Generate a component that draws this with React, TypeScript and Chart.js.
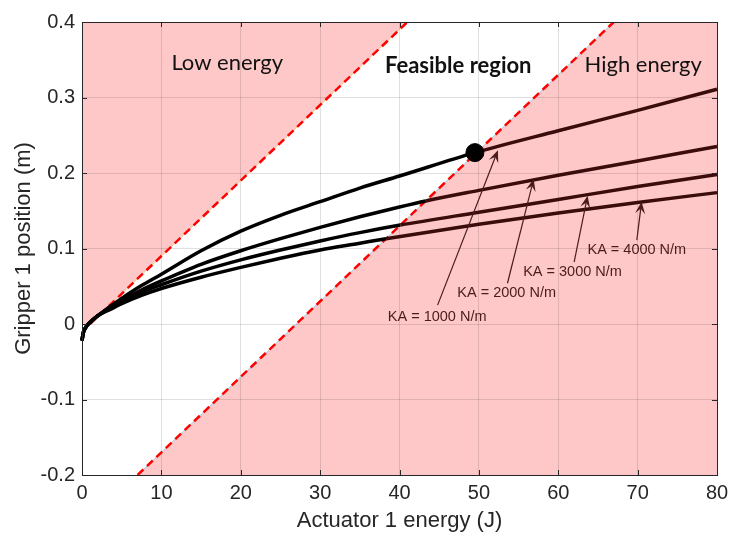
import React, { useEffect, useRef } from "react";
import { Chart, registerables } from "chart.js";

Chart.register(...registerables);

// ---- axes ----
const xMin = 0;
const xMax = 80;
const xStep = 10;
const yTickValues = [-0.2, -0.1, 0, 0.1, 0.2, 0.3, 0.4];
const yTickLabels = ["-0.2", "-0.1", "0", "0.1", "0.2", "0.3", "0.4"];
const xTitle = "Actuator 1 energy (J)";
const yTitle = "Gripper 1 position (m)";

// ---- series (gripper position vs actuator energy) ----
const seriesNames = ["KA = 1000 N/m", "KA = 2000 N/m", "KA = 3000 N/m", "KA = 4000 N/m"];
const ka1000X = [0, 0.15, 0.5, 1, 2, 3.5, 5, 7.5, 10, 15, 20, 25, 30, 35, 40, 49.5, 60, 70, 80];
const ka1000Y = [-0.022, -0.012, -0.004, 0.002, 0.011, 0.023, 0.034, 0.051, 0.066, 0.097, 0.123, 0.144, 0.162, 0.18, 0.196, 0.227, 0.256, 0.283, 0.311];
const ka2000X = [0, 0.15, 0.5, 1, 2, 3.5, 5, 7.5, 10, 15, 20, 25, 30, 35, 40, 43.3, 50, 60, 70, 80];
const ka2000Y = [-0.022, -0.012, -0.004, 0.002, 0.011, 0.021, 0.031, 0.045, 0.057, 0.079, 0.097, 0.113, 0.128, 0.142, 0.155, 0.163, 0.177, 0.197, 0.216, 0.235];
const ka3000X = [0, 0.15, 0.5, 1, 2, 3.5, 5, 7.5, 10, 15, 20, 25, 30, 35, 40.1, 50, 60, 70, 80];
const ka3000Y = [-0.022, -0.012, -0.004, 0.002, 0.011, 0.02, 0.029, 0.042, 0.052, 0.07, 0.085, 0.098, 0.11, 0.121, 0.131, 0.148, 0.165, 0.182, 0.198];
const ka4000X = [0, 0.15, 0.5, 1, 2, 3.5, 5, 7.5, 10, 15, 20, 25, 30, 35, 38.3, 50, 60, 70, 80];
const ka4000Y = [-0.022, -0.012, -0.004, 0.002, 0.011, 0.019, 0.027, 0.038, 0.047, 0.062, 0.075, 0.087, 0.098, 0.107, 0.113, 0.132, 0.147, 0.161, 0.174];

// ---- region boundaries ----
const lowBoundaryX = [1, 41];
const lowBoundaryY = [0, 0.4];
const highBoundaryX = [7, 67];
const highBoundaryY = [-0.2, 0.4];
const lowRegionX = [0, 1, 41, 0];
const lowRegionY = [0, 0, 0.4, 0.4];
const highRegionX = [7, 67, 80, 80];
const highRegionY = [-0.2, 0.4, 0.4, -0.2];
const optimumX = [49.5];
const optimumY = [0.227];

// ---- annotations ----
const regionLabels = ["Low energy", "Feasible region", "High energy"];
const regionLabelX = [18.3, 47.4, 70.7];
const regionLabelY = [0.346, 0.342, 0.343];
const regionLabelBold = [false, true, false];
const arrowTailX = [44.8, 53.6, 62.0, 69.9];
const arrowTailY = [0.025, 0.054, 0.082, 0.111];
const arrowHeadX = [52.4, 56.9, 63.7, 70.5];
const arrowHeadY = [0.23, 0.192, 0.17, 0.162];
const arrowLabelX = [44.74, 53.5, 61.8, 69.9];
const arrowLabelY = [0.0093, 0.041, 0.069, 0.098];

const PINK = "#ffc8c8";
const BROWN = "#3a0c0c";
const AXIS = "#262626";
const NOTE = "#4a1c1c";

const highSlope = (highBoundaryY[1] - highBoundaryY[0]) / (highBoundaryX[1] - highBoundaryX[0]);
const highBound = (x: number) => highBoundaryY[0] + highSlope * (x - highBoundaryX[0]);

const toPts = (xs: number[], ys: number[]) => xs.map((x, i) => ({ x, y: ys[i] }));

export default function App() {
  const ref = useRef<HTMLCanvasElement | null>(null);

  useEffect(() => {
    if (!ref.current) return;

    const regionPlugin = {
      id: "regions",
      beforeDraw(chart: any) {
        const { ctx, scales } = chart;
        const xs = scales.x;
        const ys = scales.y;
        const area = chart.chartArea;
        ctx.save();
        ctx.beginPath();
        ctx.rect(area.left, area.top, area.right - area.left, area.bottom - area.top);
        ctx.clip();
        ctx.fillStyle = PINK;
        for (const [px, py] of [
          [lowRegionX, lowRegionY],
          [highRegionX, highRegionY],
        ]) {
          ctx.beginPath();
          px.forEach((v: number, i: number) => {
            const X = xs.getPixelForValue(v);
            const Y = ys.getPixelForValue(py[i]);
            if (i === 0) ctx.moveTo(X, Y);
            else ctx.lineTo(X, Y);
          });
          ctx.closePath();
          ctx.fill();
        }
        ctx.restore();
      },
      afterDatasetsDraw(chart: any) {
        const { ctx, scales } = chart;
        const xs = scales.x;
        const ys = scales.y;
        ctx.save();
        ctx.strokeStyle = NOTE;
        ctx.fillStyle = NOTE;
        ctx.lineWidth = 1.2;
        for (let i = 0; i < arrowTailX.length; i++) {
          const x0 = xs.getPixelForValue(arrowTailX[i]);
          const y0 = ys.getPixelForValue(arrowTailY[i]);
          const x1 = xs.getPixelForValue(arrowHeadX[i]);
          const y1 = ys.getPixelForValue(arrowHeadY[i]);
          const dx = x1 - x0;
          const dy = y1 - y0;
          const len = Math.hypot(dx, dy);
          const ux = dx / len;
          const uy = dy / len;
          const L = 12;
          const W = 5;
          ctx.beginPath();
          ctx.moveTo(x0, y0);
          ctx.lineTo(x1 - ux * L * 0.6, y1 - uy * L * 0.6);
          ctx.stroke();
          ctx.beginPath();
          ctx.moveTo(x1, y1);
          ctx.lineTo(x1 - ux * L - uy * W, y1 - uy * L + ux * W);
          ctx.lineTo(x1 - ux * L * 0.6, y1 - uy * L * 0.6);
          ctx.lineTo(x1 - ux * L + uy * W, y1 - uy * L - ux * W);
          ctx.closePath();
          ctx.fill();
        }
        ctx.font = '14.5px "Liberation Sans", Arial, sans-serif';
        ctx.textAlign = "center";
        ctx.textBaseline = "middle";
        for (let i = 0; i < seriesNames.length; i++) {
          ctx.fillText(seriesNames[i], xs.getPixelForValue(arrowLabelX[i]), ys.getPixelForValue(arrowLabelY[i]));
        }
        ctx.fillStyle = "#111";
        for (let i = 0; i < regionLabels.length; i++) {
          ctx.font = (regionLabelBold[i] ? "bold " : "") + "22px Lato, sans-serif";
          ctx.fillText(regionLabels[i], xs.getPixelForValue(regionLabelX[i]), ys.getPixelForValue(regionLabelY[i]));
        }
        ctx.restore();
      },
      afterDraw(chart: any) {
        const { ctx, scales } = chart;
        const a = chart.chartArea;
        ctx.save();
        ctx.strokeStyle = AXIS;
        ctx.lineWidth = 1;
        ctx.strokeRect(Math.round(a.left) + 0.5, Math.round(a.top) + 0.5, Math.round(a.right - a.left), Math.round(a.bottom - a.top));
        const T = 5;
        ctx.beginPath();
        for (let v = xMin; v <= xMax; v += xStep) {
          const X = Math.round(scales.x.getPixelForValue(v)) + 0.5;
          ctx.moveTo(X, a.bottom);
          ctx.lineTo(X, a.bottom - T);
          ctx.moveTo(X, a.top);
          ctx.lineTo(X, a.top + T);
        }
        for (const v of yTickValues) {
          const Y = Math.round(scales.y.getPixelForValue(v)) + 0.5;
          ctx.moveTo(a.left, Y);
          ctx.lineTo(a.left + T, Y);
          ctx.moveTo(a.right, Y);
          ctx.lineTo(a.right - T, Y);
        }
        ctx.stroke();
        ctx.restore();
      },
    };

    const curveSegment = {
      borderColor: (c: any) => {
        const mx = (c.p0.parsed.x + c.p1.parsed.x) / 2;
        const my = (c.p0.parsed.y + c.p1.parsed.y) / 2;
        return my < highBound(mx) ? BROWN : "#000";
      },
    };

    const curve = (label: string, xs: number[], ys: number[]) => ({
      type: "line" as const,
      label,
      data: toPts(xs, ys),
      borderColor: "#000",
      borderWidth: 3.5,
      pointRadius: 0,
      cubicInterpolationMode: "monotone" as const,
      segment: curveSegment,
      order: 5,
      clip: false as any,
    });

    const chart = new Chart(ref.current, {
      type: "line",
      data: {
        datasets: [
          {
            type: "scatter",
            label: "optimum",
            data: toPts(optimumX, optimumY),
            pointRadius: 9,
            pointBackgroundColor: "#000",
            pointBorderColor: "#000",
            order: 1,
          } as any,
          curve(seriesNames[0], ka1000X, ka1000Y),
          curve(seriesNames[1], ka2000X, ka2000Y),
          curve(seriesNames[2], ka3000X, ka3000Y),
          curve(seriesNames[3], ka4000X, ka4000Y),
          {
            label: "low bound",
            data: toPts(lowBoundaryX, lowBoundaryY),
            borderColor: "#ff0000",
            borderWidth: 2.5,
            borderDash: [8, 5],
            pointRadius: 0,
            order: 8,
          },
          {
            label: "high bound",
            data: toPts(highBoundaryX, highBoundaryY),
            borderColor: "#ff0000",
            borderWidth: 2.5,
            borderDash: [8, 5],
            pointRadius: 0,
            order: 8,
          },
          {
            label: "low bound base",
            data: toPts(lowBoundaryX, lowBoundaryY),
            borderColor: "#f3c98a",
            borderWidth: 1,
            pointRadius: 0,
            order: 9,
          },
          {
            label: "high bound base",
            data: toPts(highBoundaryX, highBoundaryY),
            borderColor: "#8fd4ee",
            borderWidth: 1,
            pointRadius: 0,
            order: 9,
          },
        ],
      },
      options: {
        animation: false,
        responsive: false,
        events: [],
        layout: { padding: { left: 0, right: 12, top: 22, bottom: 0 } },
        plugins: { legend: { display: false }, tooltip: { enabled: false } },
        scales: {
          x: {
            type: "linear",
            min: xMin,
            max: xMax,
            ticks: {
              stepSize: xStep,
              color: AXIS,
              font: { family: '"Liberation Sans", Arial, sans-serif', size: 20 },
              padding: 6,
              maxRotation: 0,
            },
            grid: { color: "rgba(0,0,0,0.12)", drawTicks: false },
            border: { display: false },
            title: {
              display: true,
              text: xTitle,
              color: AXIS,
              font: { family: '"Liberation Sans", Arial, sans-serif', size: 22 },
              padding: { top: 0, bottom: 4 },
            },
            afterFit: (s: any) => {
              s.height = 63;
              s.paddingRight = 0;
              s.paddingLeft = 0;
            },
          },
          y: {
            type: "linear",
            min: yTickValues[0],
            max: yTickValues[yTickValues.length - 1],
            afterBuildTicks: (s: any) => {
              s.ticks = yTickValues.map((v) => ({ value: v }));
            },
            ticks: {
              color: AXIS,
              font: { family: '"Liberation Sans", Arial, sans-serif', size: 20 },
              padding: 7,
              callback: (v: any) => {
                const i = yTickValues.findIndex((t) => Math.abs(t - v) < 1e-9);
                return i >= 0 ? yTickLabels[i] : "";
              },
            },
            grid: { color: "rgba(0,0,0,0.12)", drawTicks: false },
            border: { display: false },
            title: {
              display: true,
              text: yTitle,
              color: AXIS,
              font: { family: '"Liberation Sans", Arial, sans-serif', size: 22 },
              padding: { top: 11, bottom: 0 },
            },
            afterFit: (s: any) => {
              s.width = 82;
              s.paddingTop = 0;
              s.paddingBottom = 0;
            },
          },
        },
      },
      plugins: [regionPlugin],
    } as any);

    return () => chart.destroy();
  }, []);

  return (
    <div style={{ position: "fixed", left: 0, top: 0, width: 729, height: 538, background: "#fff" }}>
      <canvas ref={ref} width={729} height={538} style={{ display: "block" }} />
    </div>
  );
}
